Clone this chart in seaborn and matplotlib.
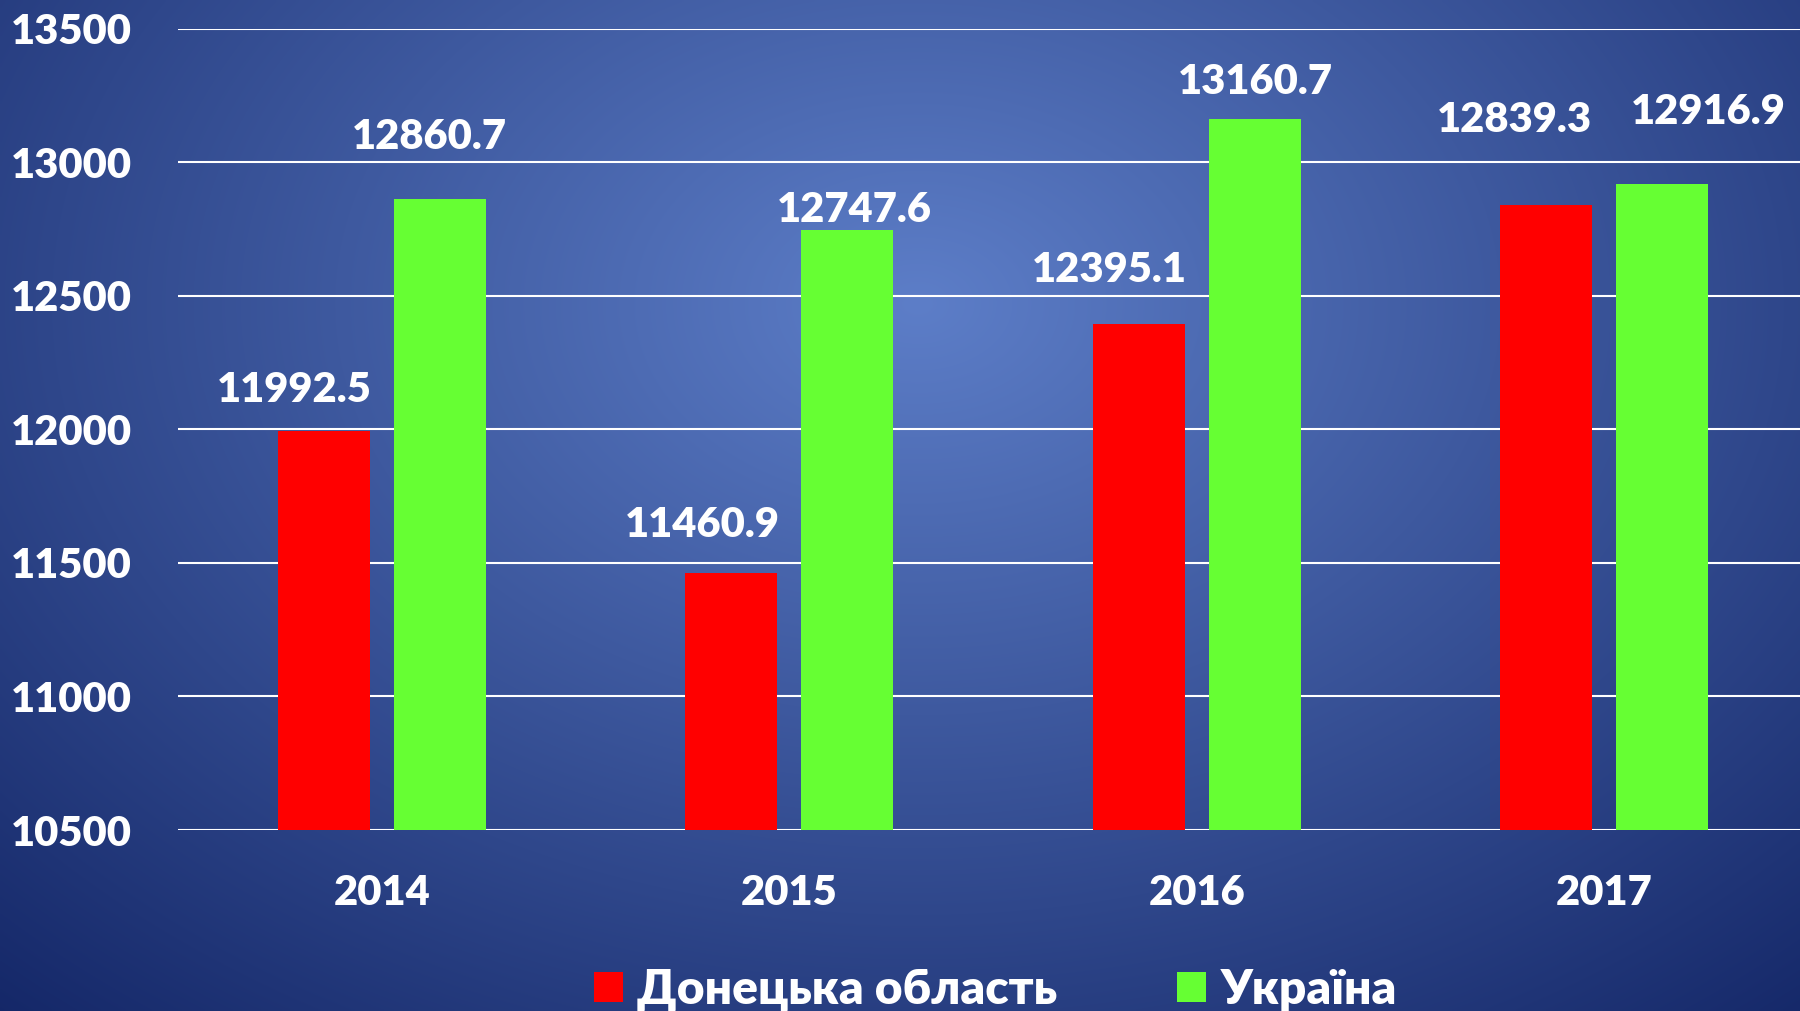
import numpy as np
import pandas as pd
import matplotlib
matplotlib.use("Agg")
import matplotlib.pyplot as plt
import seaborn as sns
from matplotlib.patches import Patch

# ---- data ----
years = ["2014", "2015", "2016", "2017"]
series_names = ["Донецька область", "Україна"]
donetsk = [11992.5, 11460.9, 12395.1, 12839.3]
ukraine = [12860.7, 12747.6, 13160.7, 12916.9]
yticks = [10500, 11000, 11500, 12000, 12500, 13000, 13500]

# label offsets (points) relative to bar top centre: layout only
red_off = [(-14, 20), (-14, 23), (-14.3, 25.6), (-15.2, 41)]
green_off = [(-5, 30), (3.3, 9.5), (0.3, 18), (22, 35)]

colors = ["#ff0000", "#66ff33"]

df = pd.DataFrame({
    "year": years * 2,
    "value": donetsk + ukraine,
    "series": [series_names[0]] * 4 + [series_names[1]] * 4,
})

sns.set_theme(style="white")
plt.rcParams["font.family"] = ["Lato", "Open Sans", "DejaVu Sans"]
WEIGHT = "heavy"
plt.rcParams["font.weight"] = WEIGHT

W, H, DPI = 1800, 1011, 150
fig = plt.figure(figsize=(W / DPI, H / DPI), dpi=DPI)

# background radial gradient
bg = fig.add_axes([0, 0, 1, 1])
xs = np.linspace(0, 1, 600)
ys = np.linspace(0, 1, 340)
X, Y = np.meshgrid(xs, ys)
nx = (X - 0.51) / 0.62
ny = (Y - 0.30) / 0.78
r = np.clip(np.sqrt(nx ** 2 + ny ** 2) / 1.3, 0, 1)
c0 = np.array([93, 126, 200]) / 255
c1 = np.array([16, 34, 98]) / 255
img = c0[None, None, :] + (c1 - c0)[None, None, :] * r[..., None]
bg.imshow(img, extent=[0, 1, 1, 0], aspect="auto", interpolation="bilinear")
bg.set_xlim(0, 1)
bg.set_ylim(1, 0)
bg.axis("off")

left = 178 / W
right = 1808 / W
top = 1 - 28.7 / H
bottom = 1 - 830 / H
ax = fig.add_axes([left, bottom, right - left, top - bottom])
ax.set_facecolor("none")

sns.barplot(data=df, x="year", y="value", hue="series", palette=colors,
            width=0.57, gap=0.21, ax=ax, legend=False, saturation=1,
            errorbar=None, edgecolor="none", linewidth=0)

ax.set_ylim(10500, 13500)
ax.set_yticks(yticks)
ax.set_yticklabels([str(v) for v in yticks])
ax.set_xlabel("")
ax.set_ylabel("")
ax.set_axisbelow(True)
ax.yaxis.grid(True, color="white", linewidth=1.0)
ax.xaxis.grid(False)
for s in ax.spines.values():
    s.set_visible(False)
ax.tick_params(axis="y", length=0, pad=22, labelsize=20, labelcolor="white")
ax.tick_params(axis="x", length=0, pad=21, labelsize=20, labelcolor="white")
for t in ax.get_xticklabels() + ax.get_yticklabels():
    t.set_fontweight(WEIGHT)

# value labels
for cont, vals, offs in zip(ax.containers, [donetsk, ukraine], [red_off, green_off]):
    for bar, v, (dx, dy) in zip(cont.patches, vals, offs):
        cx = bar.get_x() + bar.get_width() / 2
        ax.annotate(f"{v:.1f}", xy=(cx, v), xytext=(dx, dy),
                    textcoords="offset points", ha="center", va="center",
                    color="white", fontsize=20, fontweight=WEIGHT,
                    annotation_clip=False)

handles = [Patch(facecolor=colors[0], edgecolor="none"),
           Patch(facecolor=colors[1], edgecolor="none")]
leg = fig.legend(handles, series_names, loc="center", ncol=2,
                 bbox_to_anchor=(0.553, 0.021), frameon=False,
                 fontsize=23, handlelength=0.6, handleheight=0.6,
                 handletextpad=0.3, columnspacing=2.5, borderpad=0)
for t in leg.get_texts():
    t.set_color("white")
    t.set_fontweight(WEIGHT)

fig.savefig("out.png", dpi=DPI)
